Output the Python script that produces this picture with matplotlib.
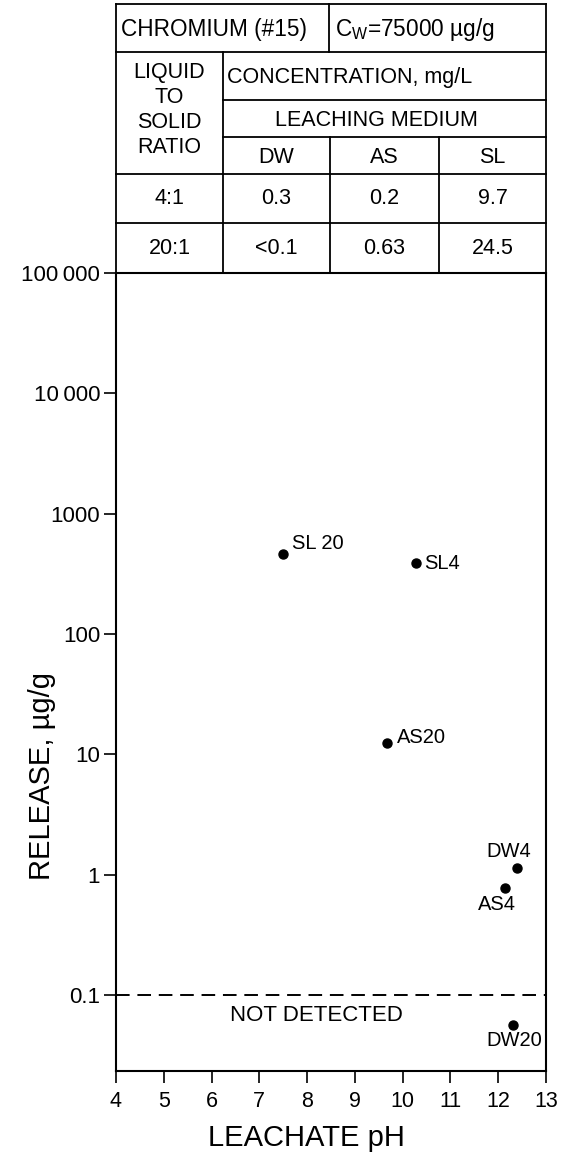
import matplotlib
matplotlib.use('Agg')
import matplotlib.pyplot as plt
from matplotlib.ticker import FixedLocator, FixedFormatter, NullLocator

plt.rcParams['font.family'] = ['Liberation Sans', 'DejaVu Sans']
plt.rcParams['mathtext.fontset'] = 'custom'
plt.rcParams['mathtext.rm'] = 'Liberation Sans'

# --- data ---
point_labels = ['SL 20', 'SL4', 'AS20', 'DW4', 'AS4', 'DW20']
ph = [7.49, 10.28, 9.67, 12.39, 12.14, 12.31]
release = [461, 388, 12.4, 1.14, 0.77, 0.056]

detection_limit = 0.1

xticks = [4, 5, 6, 7, 8, 9, 10, 11, 12, 13]
yticks = [0.1, 1, 10, 100, 1000, 10000, 100000]
ytick_labels = ['0.1', '1', '10', '100', '1000', '10\u2009000', '100\u2009000']

element = 'CHROMIUM (#15)'
cw_text = r'C$_{\mathregular{W}}$=75000 µg/g'
media = ['DW', 'AS', 'SL']
ratios = ['4:1', '20:1']
conc = [['0.3', '0.2', '9.7'],
        ['<0.1', '0.63', '24.5']]

# label placement (points offset, alignment) per point
offsets = [(7, 8), (6, 0), (7, 4), (-6, 12), (-6, -12), (1, -11)]
aligns = ['left', 'left', 'left', 'center', 'center', 'center']

fig = plt.figure(figsize=(5.62, 11.56), dpi=100)

# main plot
ax = fig.add_axes([0.2064, 0.0735, 0.7651, 0.6903])
ax.set_yscale('log')
ax.set_xlim(4, 13)
ax.set_ylim(0.0233, 100000)
ax.plot(ph, release, 'o', color='black', markersize=6.5, zorder=3)
for x, y, lab, off, ha in zip(ph, release, point_labels, offsets, aligns):
    ax.annotate(lab, (x, y), xytext=off, textcoords='offset points',
                ha=ha, va='center', fontsize=14.5)

ax.axhline(detection_limit, color='black', ls=(0, (7, 4)), lw=1.4)
ax.text(8.2, 0.068, 'NOT DETECTED', ha='center', va='center', fontsize=16)

ax.xaxis.set_major_locator(FixedLocator(xticks))
ax.yaxis.set_major_locator(FixedLocator(yticks))
ax.yaxis.set_major_formatter(FixedFormatter(ytick_labels))
ax.yaxis.set_minor_locator(NullLocator())
ax.tick_params(axis='both', direction='out', length=8.5, width=1.2, color='black')
ax.tick_params(axis='x', labelsize=15.5, pad=6)
ax.tick_params(axis='y', labelsize=16, pad=3)
for sp in ax.spines.values():
    sp.set_linewidth(1.5)

ax.text(0.442, -0.084, 'LEACHATE pH', transform=ax.transAxes,
        ha='center', va='center', fontsize=21)
ax.text(-0.172, 0.37, 'RELEASE, µg/g', transform=ax.transAxes,
        rotation=90, ha='center', va='center', fontsize=21)

# header table (pixel-like layout coordinates)
tb = fig.add_axes([0.2064, 0.7638, 0.7651, 0.2327])
tb.set_xlim(116, 546)
tb.set_ylim(273, 4)
tb.axis('off')
cols = [116, 223, 330, 439, 546]
rows = [4, 52, 100, 137, 174, 223, 273]
lw = 1.3


def seg(x0, x1, y0, y1):
    tb.plot([x0, x1], [y0, y1], color='black', lw=lw, clip_on=False,
            solid_capstyle='projecting')


seg(cols[0], cols[-1], rows[0], rows[0])
seg(cols[0], cols[0], rows[0], rows[-1])
seg(cols[-1], cols[-1], rows[0], rows[-1])
seg(cols[0], cols[-1], rows[1], rows[1])
seg(cols[1], cols[-1], rows[2], rows[2])
seg(cols[1], cols[-1], rows[3], rows[3])
for r in rows[4:6]:
    seg(cols[0], cols[-1], r, r)
seg(329, 329, rows[0], rows[1])
seg(cols[1], cols[1], rows[1], rows[-1])
for c in cols[2:4]:
    seg(c, c, rows[3], rows[-1])

fs = 15.5
tb.text(121, 29, element, ha='left', va='center', fontsize=16.3)
tb.text(335, 29, cw_text, ha='left', va='center', fontsize=16.3)
for i, word in enumerate(['LIQUID', 'TO', 'SOLID', 'RATIO']):
    tb.text((cols[0] + cols[1]) / 2, 72 + 25.3 * i, word,
            ha='center', va='center', fontsize=fs)
tb.text(227, 77, 'CONCENTRATION, mg/L', ha='left', va='center', fontsize=fs)
tb.text((cols[1] + cols[-1]) / 2 - 8, 120, 'LEACHING MEDIUM',
        ha='center', va='center', fontsize=fs)
for j, m in enumerate(media):
    tb.text((cols[j + 1] + cols[j + 2]) / 2, 157, m,
            ha='center', va='center', fontsize=fs)
for i, (r, vals) in enumerate(zip(ratios, conc)):
    yc = (rows[4 + i] + rows[5 + i]) / 2
    tb.text((cols[0] + cols[1]) / 2, yc, r, ha='center', va='center', fontsize=fs)
    for j, v in enumerate(vals):
        tb.text((cols[j + 1] + cols[j + 2]) / 2, yc, v,
                ha='center', va='center', fontsize=fs)

fig.savefig('out.png', dpi=100)
